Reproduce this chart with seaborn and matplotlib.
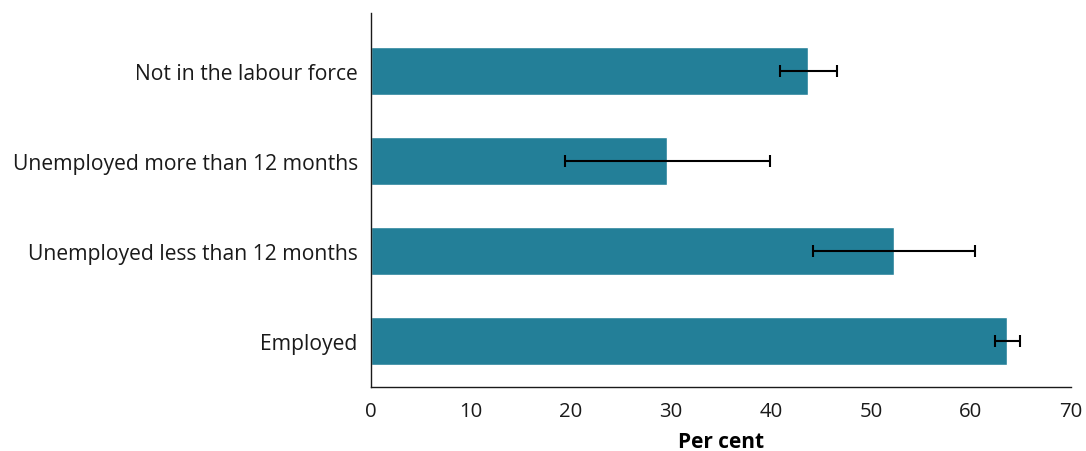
import numpy as np
import pandas as pd
import seaborn as sns
import matplotlib.pyplot as plt

categories = ["Not in the labour force", "Unemployed more than 12 months",
              "Unemployed less than 12 months", "Employed"]
per_cent = [43.7, 29.6, 52.3, 63.6]
ci_low = [40.9, 19.4, 44.2, 62.4]
ci_high = [46.6, 39.9, 60.4, 64.9]

df = pd.DataFrame({"Category": categories, "Per cent": per_cent,
                   "low": ci_low, "high": ci_high})

sns.set_style("white")
plt.rcParams['font.family'] = ['Open Sans', 'DejaVu Sans']

fig = plt.figure(figsize=(10.86, 4.52), dpi=100)
ax = fig.add_axes([371 / 1086, 1 - 388 / 452, 700 / 1086, 374 / 452])

sns.barplot(data=df, x="Per cent", y="Category", orient="h",
            color="#237f98", width=0.53, saturation=1, errorbar=None, ax=ax)

# asymmetric error bars
xerr = np.array([df["Per cent"] - df["low"], df["high"] - df["Per cent"]])
ax.errorbar(df["Per cent"], np.arange(len(df)), xerr=xerr, fmt="none",
            ecolor="black", elinewidth=1.5, capsize=4.5, capthick=1.5)

ax.set_xlim(0, 70)
ax.set_ylim(3.51, -0.644)
ax.set_xticks(range(0, 71, 10))
ax.set_xlabel("Per cent", fontsize=15, fontweight="bold", color="black",
              labelpad=7)
ax.set_ylabel("")

sns.despine(ax=ax, top=True, right=True)
for s in ["left", "bottom"]:
    ax.spines[s].set_color("#1a1a1a")
    ax.spines[s].set_linewidth(1.0)

ax.tick_params(axis="x", direction="out", length=6, width=1, color="#1a1a1a",
               labelsize=14.7, labelcolor="#1a1a1a", pad=4)
ax.tick_params(axis="y", length=0, labelsize=15.2, labelcolor="#1a1a1a", pad=9.5)

fig.savefig("out.png", dpi=100)
